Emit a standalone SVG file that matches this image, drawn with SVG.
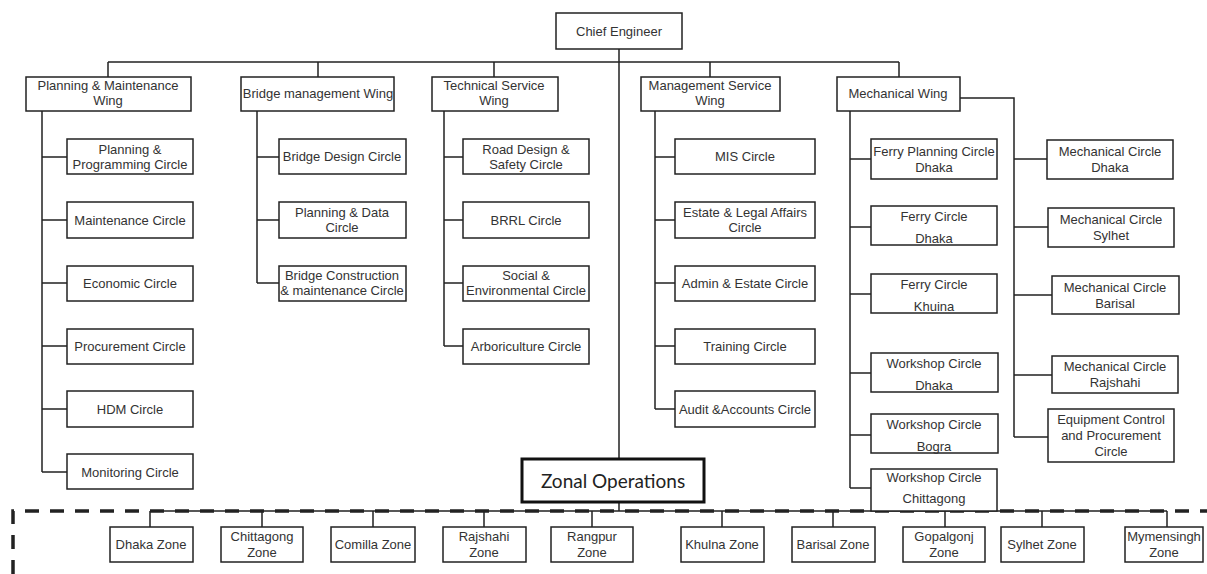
<svg xmlns="http://www.w3.org/2000/svg" width="1207" height="574" viewBox="0 0 1207 574">
<style>
.b{fill:#fff;stroke:#222;stroke-width:1.5}
.t{font-family:"Liberation Sans",Arial,sans-serif;font-size:13px;fill:#333;text-anchor:middle}
.c{fill:none;stroke:#222;stroke-width:1.5}
.z{font-family:Lato,"Open Sans",sans-serif;font-size:19px;fill:#222;text-anchor:middle}
</style>
<rect width="1207" height="574" fill="#fff"/>
<g id="connectors" class="c">
<path d="M619,49V459M619,502V511"/>
<path d="M108,62H899M108,62V77M318,62V77M494,62V77M710,62V77M899,62V77"/>
<path d="M42,111V472M42,157H67M42,220H67M42,283H67M42,346H67M42,409H67M42,472H67"/>
<path d="M257,111V283M257,157H279M257,220H279M257,283H279"/>
<path d="M444,111V346M444,157H463M444,220H463M444,283H463M444,346H463"/>
<path d="M655,111V409M655,157H675M655,220H675M655,283H675M655,346H675M655,409H675"/>
<path d="M850,111V488M850,159H871M850,227H871M850,294H871M850,373H871M850,435H871M850,488H871"/>
<path d="M960,98H1014V437M1014,159H1047M1014,227H1048M1014,295H1052M1014,375H1052M1014,437H1048"/>
<path d="M150,511H1167M150,511V527M262,511V527M373,511V527M484,511V527M592,511V527M722,511V527M833,511V527M945,511V527M1042,511V527M1167,511V527"/>
<path d="M13,574V511H1207" stroke-width="3.5" stroke-dasharray="14 11"/>
</g>
<g id="chief"><rect class="b" x="556" y="13" width="126" height="36"/><text class="t" x="619" y="36">Chief Engineer</text></g>
<g id="wing-pm"><rect class="b" x="26" y="77" width="165" height="34"/><text class="t" x="108" y="90">Planning &amp; Maintenance</text><text class="t" x="108" y="105">Wing</text></g>
<g id="wing-bm"><rect class="b" x="241" y="77" width="153" height="34"/><text class="t" x="318" y="98">Bridge management Wing</text></g>
<g id="wing-ts"><rect class="b" x="432" y="77" width="126" height="34"/><text class="t" x="494" y="90">Technical Service</text><text class="t" x="494" y="105">Wing</text></g>
<g id="wing-ms"><rect class="b" x="641" y="77" width="139" height="34"/><text class="t" x="710" y="90">Management  Service</text><text class="t" x="710" y="105">Wing</text></g>
<g id="wing-mw"><rect class="b" x="837" y="77" width="123" height="34"/><text class="t" x="898" y="98">Mechanical Wing</text></g>

<g id="pm1"><rect class="b" x="67" y="139" width="126" height="35"/><text class="t" x="130" y="154">Planning &amp;</text><text class="t" x="130" y="169">Programming Circle</text></g>
<g id="pm2"><rect class="b" x="67" y="202" width="126" height="36"/><text class="t" x="130" y="225">Maintenance Circle</text></g>
<g id="pm3"><rect class="b" x="67" y="266" width="126" height="35"/><text class="t" x="130" y="288">Economic Circle</text></g>
<g id="pm4"><rect class="b" x="67" y="329" width="126" height="35"/><text class="t" x="130" y="351">Procurement Circle</text></g>
<g id="pm5"><rect class="b" x="67" y="391" width="126" height="36"/><text class="t" x="130" y="414">HDM Circle</text></g>
<g id="pm6"><rect class="b" x="67" y="454" width="126" height="35"/><text class="t" x="130" y="477">Monitoring Circle</text></g>

<g id="bm1"><rect class="b" x="279" y="139" width="127" height="35"/><text class="t" x="342" y="161">Bridge Design Circle</text></g>
<g id="bm2"><rect class="b" x="279" y="202" width="127" height="36"/><text class="t" x="342" y="217">Planning &amp; Data</text><text class="t" x="342" y="232">Circle</text></g>
<g id="bm3"><rect class="b" x="279" y="266" width="127" height="35"/><text class="t" x="342" y="280">Bridge Construction</text><text class="t" x="342" y="295">&amp; maintenance Circle</text></g>

<g id="ts1"><rect class="b" x="463" y="139" width="126" height="35"/><text class="t" x="526" y="154">Road Design &amp;</text><text class="t" x="526" y="169">Safety Circle</text></g>
<g id="ts2"><rect class="b" x="463" y="202" width="126" height="36"/><text class="t" x="526" y="225">BRRL Circle</text></g>
<g id="ts3"><rect class="b" x="463" y="266" width="126" height="35"/><text class="t" x="526" y="280">Social &amp;</text><text class="t" x="526" y="295">Environmental Circle</text></g>
<g id="ts4"><rect class="b" x="463" y="329" width="126" height="35"/><text class="t" x="526" y="351">Arboriculture Circle</text></g>

<g id="ms1"><rect class="b" x="675" y="139" width="140" height="35"/><text class="t" x="745" y="161">MIS Circle</text></g>
<g id="ms2"><rect class="b" x="675" y="202" width="140" height="36"/><text class="t" x="745" y="217">Estate &amp; Legal Affairs</text><text class="t" x="745" y="232">Circle</text></g>
<g id="ms3"><rect class="b" x="675" y="266" width="140" height="35"/><text class="t" x="745" y="288">Admin &amp; Estate Circle</text></g>
<g id="ms4"><rect class="b" x="675" y="329" width="140" height="35"/><text class="t" x="745" y="351">Training Circle</text></g>
<g id="ms5"><rect class="b" x="675" y="391" width="140" height="36"/><text class="t" x="745" y="414">Audit &amp;Accounts Circle</text></g>

<g id="ml1"><rect class="b" x="871" y="139" width="126" height="40"/><text class="t" x="934" y="156">Ferry Planning Circle</text><text class="t" x="934" y="172">Dhaka</text></g>
<g id="ml2"><rect class="b" x="871" y="206" width="126" height="39"/><text class="t" x="934" y="221">Ferry Circle</text><text class="t" x="934" y="243">Dhaka</text></g>
<g id="ml3"><rect class="b" x="871" y="274" width="126" height="39"/><text class="t" x="934" y="289">Ferry Circle</text><text class="t" x="934" y="311">Khuina</text></g>
<g id="ml4"><rect class="b" x="871" y="353" width="127" height="39"/><text class="t" x="934" y="368">Workshop Circle</text><text class="t" x="934" y="390">Dhaka</text></g>
<g id="ml5"><rect class="b" x="871" y="414" width="127" height="39"/><text class="t" x="934" y="429">Workshop Circle</text><text class="t" x="934" y="451">Bogra</text></g>
<g id="ml6"><rect class="b" x="871" y="469" width="126" height="42"/><text class="t" x="934" y="482">Workshop Circle</text><text class="t" x="934" y="503">Chittagong</text></g>

<g id="mr1"><rect class="b" x="1047" y="140" width="126" height="39"/><text class="t" x="1110" y="156">Mechanical  Circle</text><text class="t" x="1110" y="172">Dhaka</text></g>
<g id="mr2"><rect class="b" x="1048" y="208" width="126" height="39"/><text class="t" x="1111" y="224">Mechanical Circle</text><text class="t" x="1111" y="240">Sylhet</text></g>
<g id="mr3"><rect class="b" x="1052" y="276" width="127" height="38"/><text class="t" x="1115" y="292">Mechanical Circle</text><text class="t" x="1115" y="308">Barisal</text></g>
<g id="mr4"><rect class="b" x="1052" y="356" width="126" height="37"/><text class="t" x="1115" y="371">Mechanical Circle</text><text class="t" x="1115" y="387">Rajshahi</text></g>
<g id="mr5"><rect class="b" x="1048" y="409" width="126" height="53"/><text class="t" x="1111" y="424">Equipment Control</text><text class="t" x="1111" y="440">and Procurement</text><text class="t" x="1111" y="456">Circle</text></g>

<g id="zonal"><rect x="522" y="459" width="182" height="43" fill="#fff" stroke="#111" stroke-width="3"/><text class="z" x="613" y="488">Zonal Operations</text></g>

<g id="z1"><rect class="b" x="110" y="527" width="83" height="35"/><text class="t" x="151" y="549">Dhaka Zone</text></g>
<g id="z2"><rect class="b" x="221" y="527" width="82" height="35"/><text class="t" x="262" y="541">Chittagong</text><text class="t" x="262" y="557">Zone</text></g>
<g id="z3"><rect class="b" x="331" y="527" width="84" height="35"/><text class="t" x="373" y="549">Comilla Zone</text></g>
<g id="z4"><rect class="b" x="443" y="527" width="83" height="35"/><text class="t" x="484" y="541">Rajshahi</text><text class="t" x="484" y="557">Zone</text></g>
<g id="z5"><rect class="b" x="551" y="527" width="82" height="35"/><text class="t" x="592" y="541">Rangpur</text><text class="t" x="592" y="557">Zone</text></g>
<g id="z6"><rect class="b" x="681" y="527" width="83" height="35"/><text class="t" x="722" y="549">Khulna Zone</text></g>
<g id="z7"><rect class="b" x="792" y="527" width="83" height="35"/><text class="t" x="833" y="549">Barisal Zone</text></g>
<g id="z8"><rect class="b" x="903" y="527" width="82" height="35"/><text class="t" x="944" y="541">Gopalgonj</text><text class="t" x="944" y="557">Zone</text></g>
<g id="z9"><rect class="b" x="1001" y="527" width="83" height="35"/><text class="t" x="1042" y="549">Sylhet Zone</text></g>
<g id="z10"><rect class="b" x="1125" y="527" width="78" height="35"/><text class="t" x="1164" y="541">Mymensingh</text><text class="t" x="1164" y="557">Zone</text></g>
</svg>
